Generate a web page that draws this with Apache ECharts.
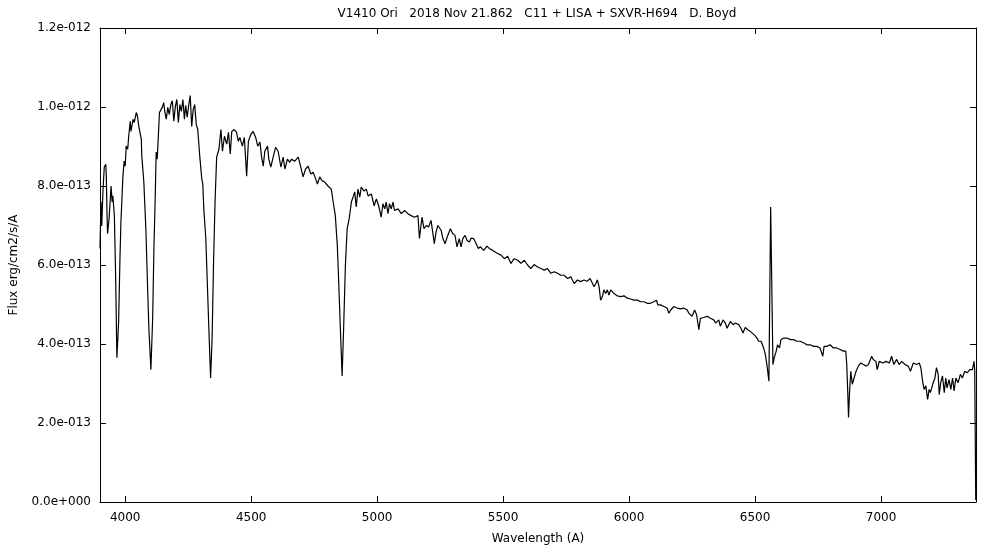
<!DOCTYPE html>
<html>
<head>
<meta charset="utf-8">
<script src="https://cdn.jsdelivr.net/npm/echarts@6/dist/echarts.min.js"></script>
<style>html,body{margin:0;padding:0;background:#fff}#c{width:1000px;height:550px}</style>
</head>
<body>
<div id="c"></div>
<script>
const chartTitle = 'V1410 Ori   2018 Nov 21.862   C11 + LISA + SXVR-H694   D. Boyd';
const xName = 'Wavelength (A)';
const yName = 'Flux erg/cm2/s/A';
// wavelength in Angstrom
const wavelength = [
3900,3904,3907,3912,3917,3923,3925,3928,3930,3936,3940,3944,3948,3951,3957,3962,3967,3974,3979,3983,
3991,3996,4000,4004,4010,4014,4020,4023,4031,4036,4044,4049,4054,4060,4064,4066,4074,4082,4089,4094,
4102,4109,4114,4119,4123,4127,4131,4136,4141,4147,4153,4157,4163,4169,4175,4181,4187,4193,4199,4205,
4211,4217,4223,4229,4235,4240,4246,4252,4258,4264,4270,4276,4282,4288,4296,4304,4308,4312,4320,4328,
4334,4339,4345,4351,4357,4363,4372,4380,4386,4394,4403,4410,4417,4423,4433,4442,4449,4455,4465,4473,
4482,4489,4499,4508,4518,4526,4535,4541,4548,4554,4565,4570,4578,4588,4597,4607,4618,4627,4634,4644,
4653,4660,4673,4687,4697,4706,4716,4726,4737,4746,4752,4763,4772,4782,4792,4805,4818,4825,4834,4842,
4847,4854,4861,4867,4874,4881,4889,4898,4906,4911,4917,4924,4931,4937,4948,4957,4964,4970,4977,4988,
4997,5006,5016,5023,5030,5036,5043,5049,5056,5063,5069,5083,5096,5109,5115,5122,5135,5148,5162,5168,
5178,5186,5195,5204,5214,5221,5227,5234,5241,5247,5254,5261,5270,5278,5291,5300,5309,5317,5326,5333,
5340,5349,5357,5366,5373,5383,5393,5402,5410,5423,5436,5445,5459,5465,5478,5492,5505,5518,5531,5544,
5558,5571,5584,5597,5610,5623,5637,5650,5663,5676,5690,5703,5716,5729,5742,5756,5769,5775,5782,5795,
5808,5821,5835,5845,5855,5861,5868,5874,5881,5887,5894,5900,5907,5914,5920,5927,5940,5953,5967,5980,
5993,6006,6019,6033,6046,6059,6072,6085,6098,6109,6114,6125,6138,6151,6158,6165,6178,6191,6204,6217,
6231,6237,6250,6260,6268,6277,6283,6296,6310,6323,6336,6343,6356,6362,6373,6382,6389,6402,6413,6422,
6435,6444,6452,6461,6471,6481,6488,6497,6508,6514,6524,6534,6541,6547,6555,6562,6571,6576,6584,6589,
6597,6603,6613,6626,6640,6653,6666,6679,6692,6706,6719,6732,6745,6758,6769,6774,6785,6798,6811,6824,
6838,6851,6860,6864,6868,6871,6875,6880,6886,6893,6901,6910,6920,6930,6941,6950,6963,6969,6980,6985,
6993,7007,7020,7033,7042,7051,7062,7072,7082,7095,7108,7117,7128,7141,7152,7158,7165,7171,7178,7185,
7191,7196,7205,7214,7220,7227,7231,7237,7244,7251,7257,7262,7270,7277,7284,7290,7297,7306,7315,7323,
7332,7342,7352,7363,7369,7372,7376
];
// flux in units of 1e-13 erg/cm2/s/A
const fluxE13 = [
6.42,7.60,6.99,7.92,8.48,8.55,8.25,7.25,6.79,7.17,7.20,8.00,7.60,7.75,7.25,5.74,3.65,4.58,6.10,7.09,
8.25,8.63,8.50,9.01,8.93,9.26,9.64,9.38,9.69,9.61,9.86,9.76,9.51,9.48,9.18,8.75,8.10,6.92,5.41,4.40,
3.35,4.65,6.42,7.67,8.86,8.68,9.18,9.86,9.86,9.99,10.11,9.89,9.69,9.99,9.81,10.06,10.16,9.64,10.01,10.19,
9.61,10.06,9.89,10.19,9.69,10.04,9.74,10.04,10.29,9.51,9.94,10.06,9.56,9.43,8.75,8.18,8.05,7.42,6.67,5.16,
4.03,3.14,4.15,6.16,7.67,8.73,8.93,9.43,8.88,9.26,9.06,9.36,8.81,9.38,9.43,9.36,9.13,9.23,9.01,9.23,
8.25,9.13,9.31,9.38,9.23,9.01,9.11,8.75,8.50,8.88,9.01,8.68,8.48,8.75,8.98,8.88,8.48,8.73,8.43,8.68,
8.60,8.68,8.63,8.73,8.48,8.23,8.43,8.50,8.30,8.35,8.25,8.05,8.23,8.13,8.10,8.00,7.92,7.62,7.25,6.49,
5.66,4.40,3.19,4.40,5.99,6.92,7.17,7.60,7.75,7.85,7.47,7.92,7.72,7.97,7.87,7.92,7.75,7.72,7.80,7.50,
7.67,7.50,7.21,7.55,7.42,7.59,7.30,7.55,7.42,7.59,7.38,7.42,7.30,7.38,7.42,7.30,7.25,7.21,7.25,6.67,
7.21,6.92,7.00,6.96,7.13,7.09,6.54,6.84,7.00,7.04,6.88,6.67,6.54,6.71,6.92,6.79,6.75,6.46,6.67,6.46,
6.67,6.75,6.62,6.58,6.68,6.67,6.54,6.42,6.46,6.37,6.48,6.42,6.37,6.42,6.29,6.25,6.16,6.22,6.04,6.16,
6.12,6.04,6.12,6.00,5.91,6.01,5.95,5.91,5.87,5.91,5.79,5.83,5.79,5.74,5.74,5.66,5.70,5.62,5.53,5.62,
5.58,5.62,5.59,5.66,5.53,5.45,5.53,5.62,5.45,5.11,5.20,5.37,5.28,5.37,5.24,5.37,5.28,5.22,5.20,5.22,
5.16,5.14,5.11,5.11,5.07,5.07,5.03,5.03,5.07,5.11,4.99,4.99,4.95,4.91,4.78,4.86,4.95,4.91,4.89,4.91,
4.86,4.78,4.70,4.86,4.74,4.36,4.65,4.67,4.70,4.65,4.61,4.53,4.61,4.45,4.61,4.53,4.40,4.57,4.49,4.53,
4.49,4.40,4.28,4.42,4.36,4.32,4.28,4.23,4.15,4.07,4.07,3.90,3.73,3.48,3.06,7.47,3.48,3.65,3.82,3.98,
3.90,4.11,4.15,4.15,4.11,4.11,4.07,4.07,4.03,3.98,3.98,3.94,3.94,3.90,3.69,3.94,3.94,3.98,3.90,3.90,
3.86,3.82,3.82,3.48,2.77,2.14,2.77,3.31,2.98,3.14,3.31,3.44,3.52,3.48,3.44,3.48,3.69,3.61,3.56,3.35,
3.56,3.52,3.56,3.52,3.69,3.48,3.61,3.48,3.56,3.48,3.44,3.31,3.52,3.48,3.52,3.40,3.06,2.85,2.94,2.60,
2.85,2.77,2.98,3.14,3.40,3.23,2.72,3.02,3.19,2.77,3.14,2.89,3.10,2.85,3.14,2.81,3.14,3.02,3.23,3.14,
3.31,3.27,3.35,3.35,3.56,3.35,0.05
];
const xMin = 3900, xMax = 7377;
const yMin = 0, yMax = 12, yStep = 2;

function sciLabel(v) {
  const val = v * 1e-13;
  if (Math.abs(val) < 1e-20) return '0.0e+000';
  const s = val.toExponential(1);
  const parts = s.split('e');
  const sign = parts[1][0] === '-' ? '-' : '+';
  const digits = parts[1].replace(/^[+-]/, '').padStart(3, '0');
  return parts[0] + 'e' + sign + digits;
}
function plainLabel(v) { return String(Math.round(v)); }

const font = 'DejaVu Sans';
const fs = 12;
const axisCommon = {
  axisLine: { show: true, onZero: false, lineStyle: { color: '#000', width: 1 } },
  axisTick: { show: true, inside: true, length: 6, lineStyle: { color: '#000', width: 1 } },
  splitLine: { show: false }
};

const chart = echarts.init(document.getElementById('c'), null, { renderer: 'canvas' });
chart.setOption({
  animation: false,
  backgroundColor: '#ffffff',
  textStyle: { fontFamily: font },
  grid: { left: 98, right: 24, top: 28, bottom: 45, containLabel: false },
  graphic: [{
    type: 'text', x: 537, y: 14,
    style: { text: chartTitle, fill: '#000', fontSize: fs, fontFamily: font, align: 'center', verticalAlign: 'middle' }
  }],
  xAxis: [
    Object.assign({
      type: 'value', position: 'bottom', min: xMin, max: xMax, splitNumber: 7,
      axisLabel: { color: '#000', fontSize: fs, fontFamily: font, margin: 10, formatter: plainLabel, showMinLabel: false, showMaxLabel: false },
      name: xName, nameLocation: 'middle', nameGap: 31,
      nameTextStyle: { color: '#000', fontSize: fs, fontFamily: font }
    }, axisCommon),
    Object.assign({
      type: 'value', position: 'top', min: xMin, max: xMax, splitNumber: 7,
      axisLabel: { show: false }
    }, axisCommon)
  ],
  yAxis: [
    Object.assign({
      type: 'value', position: 'left', min: yMin, max: yMax, interval: yStep,
      axisLabel: { color: '#000', fontSize: fs, fontFamily: font, margin: 9, formatter: sciLabel },
      name: yName, nameLocation: 'middle', nameGap: 80, nameRotate: 90,
      nameTextStyle: { color: '#000', fontSize: fs, fontFamily: font }
    }, axisCommon),
    Object.assign({
      type: 'value', position: 'right', min: yMin, max: yMax, interval: yStep,
      axisLabel: { show: false }
    }, axisCommon)
  ],
  series: [{
    type: 'line',
    xAxisIndex: 0, yAxisIndex: 0,
    data: wavelength.map((w, i) => [w, fluxE13[i]]),
    showSymbol: false, symbol: 'none', smooth: false,
    lineStyle: { color: '#000', width: 1.2 },
    clip: true
  }]
});
</script>
</body>
</html>
